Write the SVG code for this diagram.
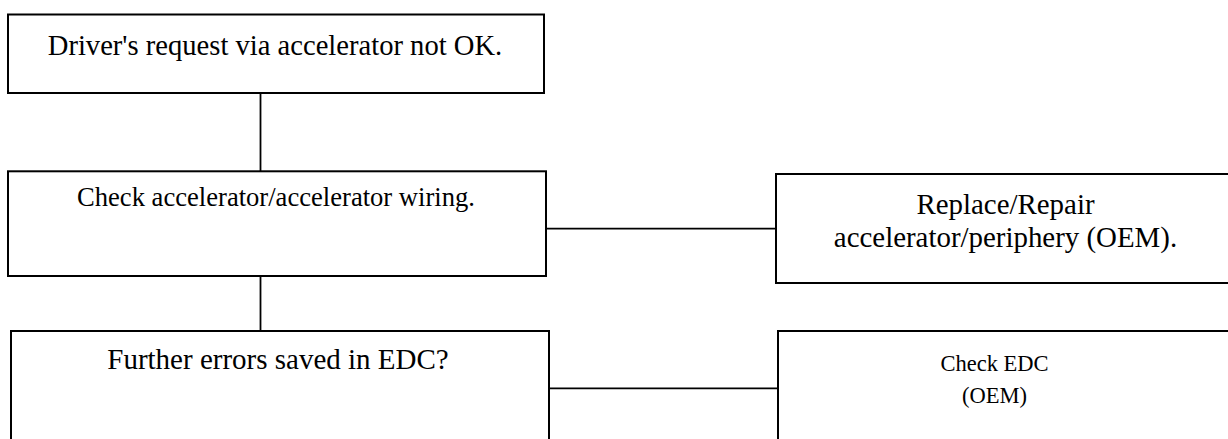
<svg xmlns="http://www.w3.org/2000/svg" width="1228" height="439" viewBox="0 0 1228 439">
<style>
.box{fill:#fff;stroke:#000;stroke-width:2}
.con{stroke:#000;stroke-width:1.8;fill:none}
text{font-family:"Liberation Serif","Times New Roman",serif;fill:#000;text-anchor:middle}
</style>
<rect width="1228" height="439" fill="#fff"/>
<g id="connectors">
<line class="con" x1="260.5" y1="93" x2="260.5" y2="171"/>
<line class="con" x1="260.5" y1="276" x2="260.5" y2="331"/>
<line class="con" x1="546" y1="228.7" x2="776" y2="228.7"/>
<line class="con" x1="549" y1="388.3" x2="778" y2="388.3"/>
</g>
<g id="n1">
<rect class="box" x="8" y="14.5" width="536" height="78.5"/>
<text x="275" y="55" font-size="28.6">Driver's request via accelerator not OK.</text>
</g>
<g id="n2">
<rect class="box" x="8" y="171.3" width="538" height="104.7"/>
<text x="276" y="206" font-size="26.6">Check accelerator/accelerator wiring.</text>
</g>
<g id="n3">
<rect class="box" x="11" y="331" width="538" height="130"/>
<text x="278" y="369" font-size="29">Further errors saved in EDC?</text>
</g>
<g id="n4">
<rect class="box" x="776" y="174" width="460" height="109"/>
<text x="1005.5" y="214" font-size="28.9">Replace/Repair</text>
<text x="1005.5" y="247" font-size="28.9">accelerator/periphery (OEM).</text>
</g>
<g id="n5">
<rect class="box" x="778" y="331" width="460" height="130"/>
<text x="994.5" y="371" font-size="22.5">Check EDC</text>
<text x="994.5" y="403" font-size="22.5">(OEM)</text>
</g>
</svg>
